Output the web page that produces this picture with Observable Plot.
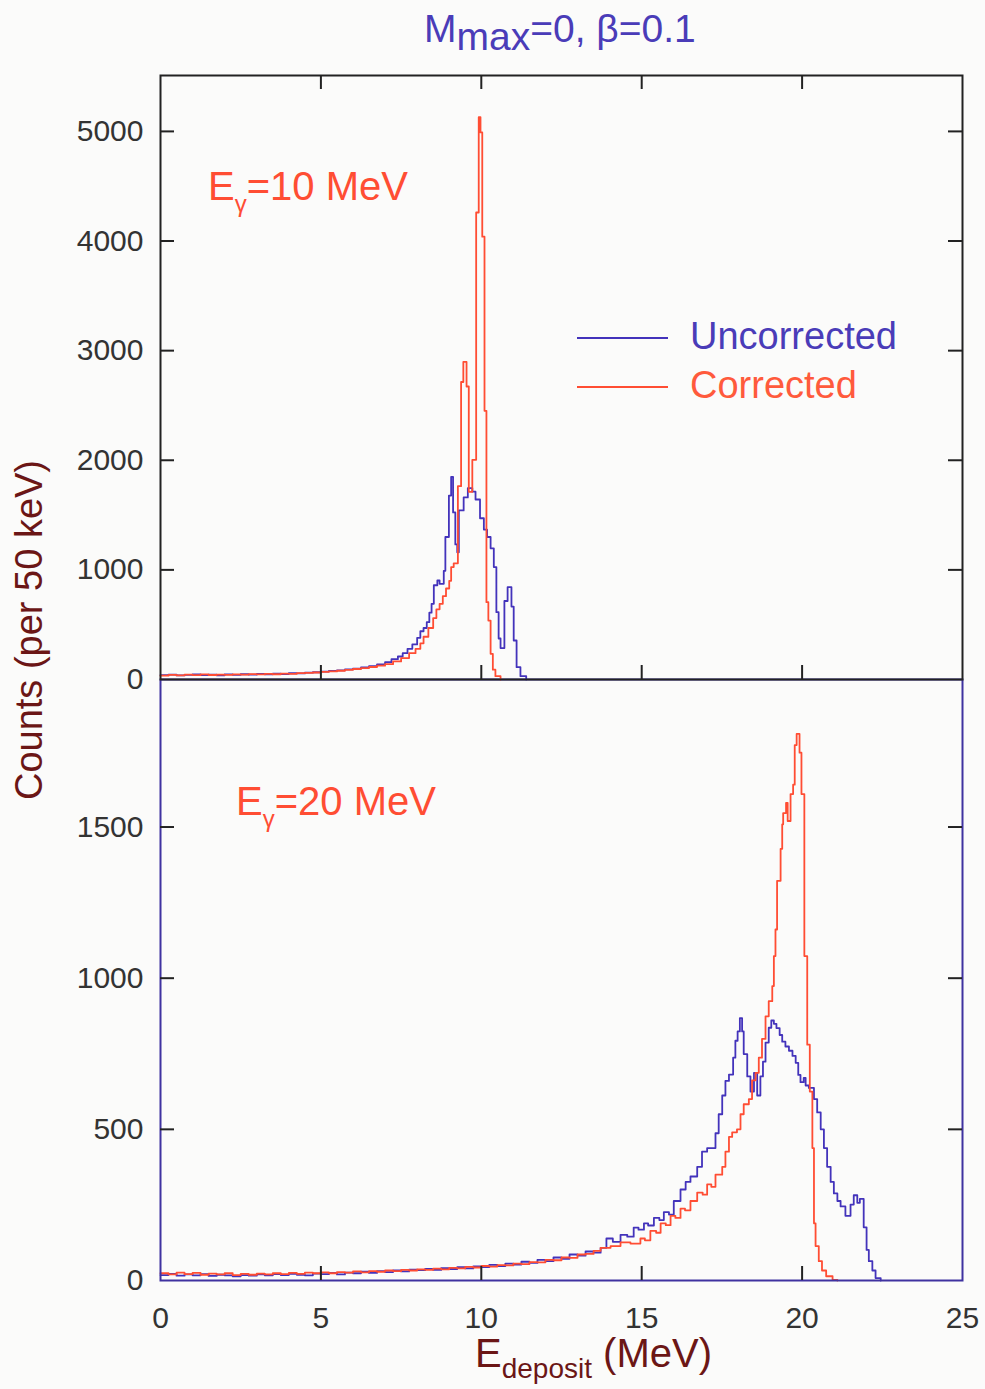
<!DOCTYPE html>
<html><head><meta charset="utf-8">
<script src="https://cdn.jsdelivr.net/npm/d3@7"></script>
<script src="https://cdn.jsdelivr.net/npm/@observablehq/plot@0.6"></script>
<style>
html,body{margin:0;padding:0;background:#fbfbfa;}
#wrap{position:relative;width:985px;height:1389px;overflow:hidden;font-family:"Liberation Sans",Arial,sans-serif;}
.abs{position:absolute;white-space:nowrap;line-height:1;}
.plotbox{position:absolute;left:0;}
</style></head><body><div id="wrap"></div>
<script>
// ---------- data ----------
const xTicks = [0, 5, 10, 15, 20, 25];
const topYTicks = [0, 1000, 2000, 3000, 4000, 5000];
const botYTicks = [0, 500, 1000, 1500];

// [E_deposit (MeV, left bin edge), counts]
const topUncorrected = [[0,40],[0.25,45],[0.5,38],[0.75,42],[1,47],[1.25,40],[1.5,44],[1.75,39],[2,46],[2.25,43],[2.5,48],[2.75,44],[3,50],[3.25,47],[3.5,53],[3.75,50],[4,57],[4.25,55],[4.5,62],[4.75,66],[5,72],[5.25,78],[5.5,84],[5.75,92],[6,100],[6.25,110],[6.5,122],[6.75,138],[7,158],[7.2,185],[7.4,210],[7.55,240],[7.7,280],[7.85,320],[8.0,380],[8.1,440],[8.2,470],[8.3,523],[8.38,610],[8.45,690],[8.52,860],[8.63,903],[8.7,873],[8.83,991],[8.88,1300],[8.99,1678],[9.06,1849],[9.12,1524],[9.19,1232],[9.25,1160],[9.3,1542],[9.45,1661],[9.58,1746],[9.72,1713],[9.82,1642],[9.96,1471],[10.08,1368],[10.18,1300],[10.29,1197],[10.39,1026],[10.47,614],[10.54,374],[10.6,287],[10.72,716],[10.82,842],[10.94,665],[11.01,356],[11.1,112],[11.22,30],[11.4,0]];

const topCorrected = [[0,35],[0.25,42],[0.5,37],[0.75,44],[1,40],[1.25,46],[1.5,41],[1.75,45],[2,42],[2.25,47],[2.5,44],[2.75,49],[3,46],[3.25,51],[3.5,48],[3.75,54],[4,52],[4.25,58],[4.5,60],[4.75,64],[5,70],[5.25,74],[5.5,80],[5.75,88],[6,96],[6.25,104],[6.5,114],[6.75,126],[7,140],[7.25,165],[7.5,195],[7.75,240],[7.95,280],[8.1,330],[8.2,390],[8.35,470],[8.5,560],[8.6,640],[8.7,690],[8.8,760],[8.9,830],[9.0,900],[9.06,1026],[9.14,1060],[9.27,1764],[9.37,2714],[9.44,2897],[9.54,2673],[9.61,1712],[9.72,2004],[9.84,4260],[9.92,5129],[9.975,4991],[10.03,4040],[10.1,2451],[10.16,705],[10.22,538],[10.29,234],[10.36,90],[10.44,30],[10.6,0]];

const botUncorrected = [[0,18],[0.25,22],[0.5,16],[0.75,20],[1,17],[1.25,21],[1.5,15],[1.75,19],[2,17],[2.25,14],[2.5,18],[2.75,16],[3,20],[3.25,17],[3.5,21],[3.75,18],[4,22],[4.25,19],[4.5,17],[4.75,23],[5,21],[5.25,25],[5.5,20],[5.75,26],[6,24],[6.25,29],[6.5,25],[6.75,31],[7,28],[7.25,33],[7.5,30],[7.75,36],[8,34],[8.25,38],[8.5,35],[8.75,41],[9,38],[9.25,44],[9.5,40],[9.75,47],[10,44],[10.25,52],[10.5,48],[10.75,56],[11,53],[11.25,62],[11.5,58],[11.75,68],[12,64],[12.25,76],[12.5,72],[12.75,86],[13,82],[13.25,96],[13.5,92],[13.72,108],[13.9,139],[14.1,128],[14.34,151],[14.55,145],[14.75,175],[14.9,168],[15.07,189],[15.2,182],[15.38,207],[15.55,200],[15.69,226],[15.85,218],[16.0,263],[16.21,301],[16.37,326],[16.52,344],[16.73,376],[16.88,426],[17.04,438],[17.3,487],[17.4,550],[17.51,612],[17.61,660],[17.72,681],[17.85,737],[17.92,793],[17.99,824],[18.06,868],[18.13,824],[18.18,749],[18.29,675],[18.39,625],[18.5,687],[18.6,612],[18.7,675],[18.78,724],[18.86,787],[18.96,836],[19.04,860],[19.12,849],[19.2,835],[19.3,812],[19.38,790],[19.48,774],[19.59,760],[19.7,743],[19.8,720],[19.88,680],[19.95,656],[20.05,670],[20.11,645],[20.21,637],[20.37,600],[20.47,556],[20.58,500],[20.68,438],[20.78,376],[20.89,326],[20.99,288],[21.1,263],[21.2,245],[21.35,214],[21.51,251],[21.61,282],[21.72,257],[21.8,270],[21.92,176],[22.01,101],[22.08,64],[22.19,33],[22.29,8],[22.45,0]];

const botCorrected = [[0,24],[0.25,20],[0.5,26],[0.75,21],[1,25],[1.25,19],[1.5,23],[1.75,20],[2,24],[2.25,18],[2.5,22],[2.75,19],[3,23],[3.25,20],[3.5,24],[3.75,21],[4,25],[4.25,22],[4.5,26],[4.75,24],[5,27],[5.25,24],[5.5,28],[5.75,26],[6,30],[6.25,27],[6.5,31],[6.75,29],[7,33],[7.25,31],[7.5,35],[7.75,33],[8,37],[8.25,35],[8.5,39],[8.75,37],[9,42],[9.25,40],[9.5,45],[9.75,43],[10,48],[10.25,46],[10.5,51],[10.75,50],[11,56],[11.25,54],[11.5,61],[11.75,60],[12,68],[12.25,67],[12.5,76],[12.75,75],[13,86],[13.25,88],[13.5,98],[13.72,108],[14.03,114],[14.34,126],[14.65,122],[14.96,139],[15.1,133],[15.27,164],[15.45,158],[15.59,189],[15.75,183],[15.9,214],[16.05,207],[16.21,238],[16.35,232],[16.52,263],[16.73,291],[16.9,284],[17.04,318],[17.17,310],[17.3,350],[17.51,376],[17.61,426],[17.72,475],[17.82,490],[17.97,500],[18.08,550],[18.18,583],[18.34,600],[18.44,662],[18.55,687],[18.65,737],[18.75,799],[18.86,874],[18.96,924],[19.07,974],[19.12,1073],[19.17,1161],[19.22,1322],[19.33,1428],[19.38,1509],[19.41,1546],[19.5,1580],[19.55,1520],[19.64,1609],[19.72,1640],[19.77,1771],[19.83,1808],[19.92,1746],[19.98,1609],[20.07,1073],[20.16,780],[20.24,625],[20.32,438],[20.37,189],[20.42,114],[20.52,64],[20.62,33],[20.75,14],[20.95,2],[21.1,0]];

// ---------- styling ----------
const BLUE = "#4333bb";
const RED = "#ff4d33";
const MAROON = "#6b1616";
const FRAME_TOP = "#222";
const FRAME_BOT = "#3f32a0";
const TICK = "#222";
const FONT = '"Liberation Sans", Arial, sans-serif';
const W = 985, ML = 160, MR = 23;
const PW = W - ML - MR; // 802
const TL = 14;          // tick length

const wrap = document.getElementById("wrap");

function panel({uncorr, corr, yMax, yTicks, frameColor, height, marginTop, marginBottom, showX, topTicks}) {
  const PH = height - marginTop - marginBottom;
  const innerY = yTicks.filter(v => v > 0);
  const innerX = xTicks.filter(v => v > 0 && v < 25);
  const marks = [
    Plot.line(uncorr, {x: d => d[0], y: d => d[1], curve: "step-after", stroke: BLUE, strokeWidth: 1.8}),
    Plot.line(corr, {x: d => d[0], y: d => d[1], curve: "step-after", stroke: RED, strokeWidth: 1.8}),
    Plot.frame({stroke: frameColor, strokeWidth: 2}),
    Plot.ruleY(innerY, {y: d => d, insetRight: PW - TL, stroke: TICK, strokeWidth: 2}),
    Plot.ruleY(innerY, {y: d => d, insetLeft: PW - TL, stroke: TICK, strokeWidth: 2}),
    Plot.ruleX(innerX, {x: d => d, insetTop: PH - TL, stroke: TICK, strokeWidth: 2}),
    Plot.axisY(yTicks, {tickSize: 0, tickPadding: 17, label: null, fontSize: 30, fill: "#333", tickFormat: d => String(d)})
  ];
  if (topTicks) marks.push(Plot.ruleX(innerX, {x: d => d, insetBottom: PH - TL, stroke: TICK, strokeWidth: 2}));
  if (showX) marks.push(Plot.axisX(xTicks, {tickSize: 0, tickPadding: 26, label: null, fontSize: 30, fill: "#333", tickFormat: d => String(d)}));
  return Plot.plot({
    width: W, height, marginLeft: ML, marginRight: MR, marginTop, marginBottom,
    style: {background: "transparent", fontFamily: FONT, fontSize: "30px", overflow: "visible", color: "#333"},
    x: {domain: [0, 25], axis: showX ? undefined : null},
    y: {domain: [0, yMax]},
    marks
  });
}

const botPlot = panel({uncorr: botUncorrected, corr: botCorrected, yMax: 1988, yTicks: botYTicks,
  frameColor: FRAME_BOT, height: 670, marginTop: 9, marginBottom: 60, showX: true, topTicks: false});
const bdiv = document.createElement("div");
bdiv.className = "plotbox"; bdiv.style.top = "670px"; bdiv.style.zIndex = 1;
bdiv.appendChild(botPlot); wrap.appendChild(bdiv);

const topPlot = panel({uncorr: topUncorrected, corr: topCorrected, yMax: 5510, yTicks: topYTicks,
  frameColor: FRAME_TOP, height: 630, marginTop: 15, marginBottom: 11, showX: false, topTicks: true});
const tdiv = document.createElement("div");
tdiv.className = "plotbox"; tdiv.style.top = "60px"; tdiv.style.zIndex = 2;
tdiv.appendChild(topPlot); wrap.appendChild(tdiv);

// ---------- texts ----------
function addText(html, left, baseline, fs, color, lh = 1) {
  const d = document.createElement("div");
  d.className = "abs";
  const off = ((lh - 1.117) / 2 + 0.905) * fs;
  d.style.cssText += `left:${left}px;top:${baseline - off}px;font-size:${fs}px;line-height:${lh};color:${color};z-index:3;`;
  d.innerHTML = html;
  wrap.appendChild(d);
  return d;
}
// title
addText(`M<span style="position:relative;top:8px">max</span>=0, β=0.1`, 424, 42, 39, "#4a3cb8");
// panel labels
addText(`E<span style="font-size:24px;position:relative;top:12px">γ</span>=10 MeV`, 208, 200, 40, RED);
addText(`E<span style="font-size:24px;position:relative;top:12px">γ</span>=20 MeV`, 236, 815, 40, RED);
// legend
addText("Uncorrected", 690, 349, 38, "#4a3cb8");
addText("Corrected", 690, 398, 38, "#ff5a3c");
for (const [y, c] of [[337, BLUE], [386, RED]]) {
  const l = document.createElement("div");
  l.className = "abs";
  l.style.cssText += `left:577px;top:${y}px;width:91px;height:0;border-top:2px solid ${c};z-index:3;`;
  wrap.appendChild(l);
}
// x label
addText(`E<span style="font-size:28px;position:relative;top:11px">deposit</span> (MeV)`, 475, 1367, 40, MAROON, 0.8);
// y label
const yl = document.createElement("div");
yl.className = "abs";
yl.style.cssText += `left:29px;top:630px;font-size:38px;color:${MAROON};transform:translate(-50%,-50%) rotate(-90deg);z-index:3;`;
yl.textContent = "Counts (per 50 keV)";
wrap.appendChild(yl);
</script></body></html>
